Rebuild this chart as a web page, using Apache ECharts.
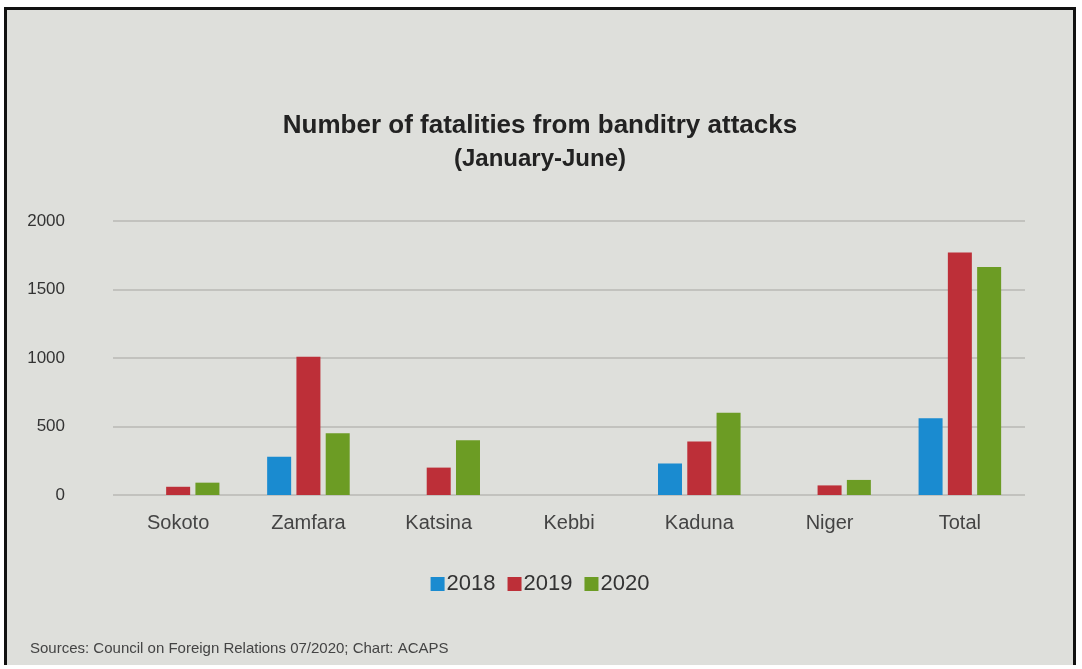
<!DOCTYPE html>
<html><head><meta charset="utf-8">
<script src="https://cdn.jsdelivr.net/npm/echarts@6/dist/echarts.min.js"></script>
<style>
html,body{margin:0;padding:0;background:#fff;}
#wrap{position:absolute;left:4px;top:7px;width:1072px;height:658px;border:3px solid #111;border-bottom:none;background:#dedfdb;box-sizing:border-box;}
#c{width:100%;height:100%;}
</style></head><body>
<div id="wrap"><div id="c"></div></div>
<script>
const categories = ['Sokoto','Zamfara','Katsina','Kebbi','Kaduna','Niger','Total'];
const s2018 = [null, 280, null, null, 230, null, 560];
const s2019 = [60, 1010, 200, null, 390, 70, 1770];
const s2020 = [90, 450, 400, null, 600, 110, 1665];
const yTicks = [0, 500, 1000, 1500, 2000];

const chart = echarts.init(document.getElementById('c'));
chart.setOption({
  backgroundColor: '#dedfdb',
  title: [{
    text: 'Number of fatalities from banditry attacks',
    left: 'center', top: 98,
    textStyle: {fontFamily: 'Liberation Sans', fontSize: 26, fontWeight: 'bold', color: '#222'}
  },{
    text: '(January-June)',
    left: 'center', top: 132,
    textStyle: {fontFamily: 'Liberation Sans', fontSize: 24, fontWeight: 'bold', color: '#222'}
  },{
    text: 'Sources: Council on Foreign Relations 07/2020; Chart: ACAPS',
    left: 18, top: 626,
    textStyle: {fontFamily: 'Liberation Sans', fontSize: 15, fontWeight: 'normal', color: '#444'}
  }],
  legend: {
    data: ['2018','2019','2020'],
    left: 'center', top: 558,
    itemWidth: 14, itemHeight: 14, itemGap: 12,
    icon: 'rect',
    textStyle: {fontFamily: 'Liberation Sans', fontSize: 22, color: '#333', padding: [0,0,0,-3]}
  },
  grid: {left: 106, right: 48, top: 211, bottom: 170},
  xAxis: {
    type: 'category', data: categories,
    axisLine: {show: false}, axisTick: {show: false},
    axisLabel: {fontFamily: 'Liberation Sans', fontSize: 20, color: '#444', margin: 18}
  },
  yAxis: {
    type: 'value', min: 0, max: 2000, interval: 500,
    axisLine: {show: false}, axisTick: {show: false},
    axisLabel: {fontFamily: 'Liberation Sans', fontSize: 17, color: '#333', margin: 48,
      formatter: v => yTicks.includes(v) ? String(v) : ''},
    splitLine: {lineStyle: {color: '#b8b9b5', width: 1.5}}
  },
  series: [
    {name: '2018', type: 'bar', data: s2018, barWidth: 24, barGap: '22%', itemStyle: {color: '#1a8bd0'}},
    {name: '2019', type: 'bar', data: s2019, barWidth: 24, barGap: '22%', itemStyle: {color: '#bd2f38'}},
    {name: '2020', type: 'bar', data: s2020, barWidth: 24, barGap: '22%', itemStyle: {color: '#6c9c24'}}
  ]
});
</script>
</body></html>
